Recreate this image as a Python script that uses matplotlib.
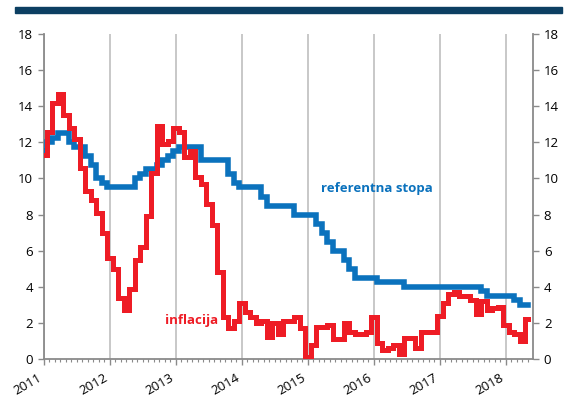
import numpy as np
import matplotlib
matplotlib.use("Agg")
import matplotlib.pyplot as plt
from matplotlib.patches import Rectangle
from matplotlib.ticker import MultipleLocator

plt.rcParams['font.family'] = ['Open Sans', 'DejaVu Sans']

# monthly values, Jan 2011 .. May 2018
inflacija = [
    11.3, 12.6, 14.2, 14.7, 13.5, 12.8, 12.2, 10.6, 9.3, 8.8, 8.1, 7.0,     # 2011
    5.6, 5.0, 3.4, 2.7, 3.9, 5.5, 6.2, 7.9, 10.3, 12.9, 11.9, 12.1,         # 2012
    12.8, 12.6, 11.2, 11.5, 10.1, 9.7, 8.6, 7.4, 4.8, 2.3, 1.7, 2.1,        # 2013
    3.1, 2.6, 2.3, 2.0, 2.1, 1.2, 2.0, 1.4, 2.1, 2.1, 2.3, 1.7,             # 2014
    0.1, 0.8, 1.8, 1.8, 1.9, 1.1, 1.1, 2.0, 1.5, 1.4, 1.4, 1.5,             # 2015
    2.3, 0.9, 0.5, 0.6, 0.8, 0.3, 1.15, 1.15, 0.6, 1.5, 1.5, 1.5,           # 2016
    2.4, 3.1, 3.6, 3.7, 3.5, 3.5, 3.25, 2.5, 3.2, 2.7, 2.8, 2.9,            # 2017
    1.9, 1.5, 1.4, 1.0, 2.2,                                                # 2018
]
referentna_stopa = [
    11.5, 12.0, 12.25, 12.5, 12.5, 12.0, 11.75, 11.75, 11.25, 10.75, 10.0, 9.75,
    9.5, 9.5, 9.5, 9.5, 9.5, 10.0, 10.25, 10.5, 10.5, 10.75, 11.0, 11.25,
    11.5, 11.75, 11.75, 11.75, 11.75, 11.0, 11.0, 11.0, 11.0, 11.0, 10.25, 9.75,
    9.5, 9.5, 9.5, 9.5, 9.0, 8.5, 8.5, 8.5, 8.5, 8.5, 8.0, 8.0,
    8.0, 8.0, 7.5, 7.0, 6.5, 6.0, 6.0, 5.5, 5.0, 4.5, 4.5, 4.5,
    4.5, 4.25, 4.25, 4.25, 4.25, 4.25, 4.0, 4.0, 4.0, 4.0, 4.0, 4.0,
    4.0, 4.0, 4.0, 4.0, 4.0, 4.0, 4.0, 4.0, 3.75, 3.5, 3.5, 3.5,
    3.5, 3.5, 3.25, 3.0, 3.0,
]
godine = [2011, 2012, 2013, 2014, 2015, 2016, 2017, 2018]

x = 2011 + np.arange(len(inflacija)) / 12

fig = plt.figure(figsize=(5.71, 4.0), dpi=100)
ax = fig.add_axes([0.077, 0.1025, 0.856, 0.8125])

fig.patches.append(Rectangle((0.026, 0.9675), 0.958, 0.015,
                             transform=fig.transFigure, color='#0c3f62'))

ax.plot(x, referentna_stopa, color='#0b72bd', lw=4.0, drawstyle='steps-mid',
        solid_joinstyle='miter', zorder=3)
ax.plot(x, inflacija, color='#ee1c25', lw=3.6, drawstyle='steps-mid',
        solid_joinstyle='miter', zorder=4)

ax.text(2015.2, 9.45, 'referentna stopa', color='#0b72bd', fontsize=9.5,
        fontweight='bold', va='center', ha='left')
ax.text(2012.83, 2.15, 'inflacija', color='#ee1c25', fontsize=9.5,
        fontweight='bold', va='center', ha='left')

ax.set_xlim(2011, 2011 + 88.9 / 12)
ax.set_ylim(0, 18)
ax.set_yticks(range(0, 19, 2))
ax.set_xticks(godine)
ax.set_xticklabels([str(g) for g in godine], rotation=30, ha='right')
ax.xaxis.set_minor_locator(MultipleLocator(1 / 12))
ax.grid(axis='x', which='major', color='#c4c4c4', lw=1.3)
ax.set_axisbelow(True)

for s in ['left', 'right', 'bottom']:
    ax.spines[s].set_color('#8a8a8a')
    ax.spines[s].set_linewidth(1.3)
ax.spines['top'].set_visible(False)

ax.tick_params(axis='y', which='both', left=True, right=True, labelleft=True,
               labelright=True, length=4, width=1, color='#8a8a8a',
               labelsize=9.5, pad=4)
ax.tick_params(axis='x', which='major', length=4, width=1, color='#8a8a8a',
               labelsize=9.5, pad=5)
ax.tick_params(axis='x', which='minor', length=2.5, width=0.8, color='#8a8a8a')

fig.savefig('out.png', dpi=100)
